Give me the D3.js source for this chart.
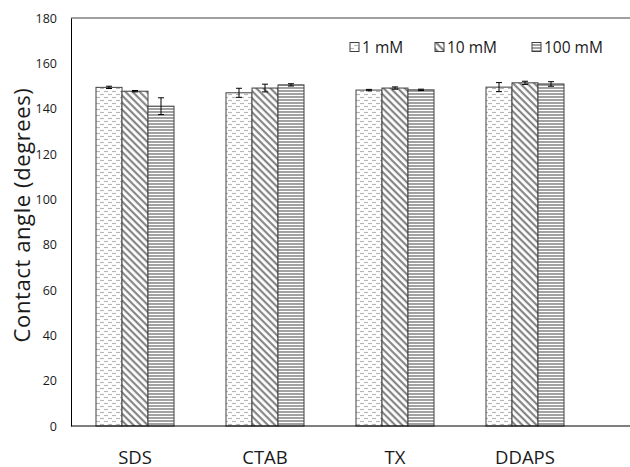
<!doctype html>
<html>
<head>
<meta charset="UTF-8">
<script src="https://d3js.org/d3.v7.min.js"></script>
<style>
  body { margin: 0; background: #fff; }
  text { font-family: "Open Sans", Lato, sans-serif; fill: #1a1a1a; }
</style>
</head>
<body>
<svg id="chart"></svg>
<script>
// data
const categories = ["SDS", "CTAB", "TX", "DDAPS"];
const series = ["1 mM", "10 mM", "100 mM"];
const values1 = [149.4, 147.0, 148.2, 149.5];
const values10 = [147.7, 149.1, 149.1, 151.4];
const values100 = [141.1, 150.5, 148.3, 150.9];
const err1 = [0.5, 2.0, 0.3, 2.0];
const err10 = [0.3, 1.7, 0.5, 0.7];
const err100 = [3.7, 0.5, 0.3, 1.0];
const yTicks = [0, 20, 40, 60, 80, 100, 120, 140, 160, 180];

(function(){
  const W = 630, H = 467;
  const svg = d3.select("#chart").attr("width", W).attr("height", H);

  const left = 71, top = 18, bottom = 426;

  const x0 = d3.scaleBand().domain(categories).range([70, 590])
               .paddingInner(0.4).paddingOuter(0.2);
  const x1 = d3.scaleBand().domain(series).range([0, x0.bandwidth()]);
  const y = d3.scaleLinear().domain([0, 180]).range([bottom, top]);

  // patterns
  const defs = svg.append("defs");
  const p1 = defs.append("pattern").attr("id", "pat0").attr("patternUnits", "userSpaceOnUse")
                 .attr("width", 8).attr("height", 6);
  p1.append("rect").attr("width", 8).attr("height", 6).attr("fill", "#fff");
  p1.append("line").attr("x1", 0).attr("x2", 4).attr("y1", 1.5).attr("y2", 1.5)
    .attr("stroke", "#b8b8b8").attr("stroke-width", 1.2);
  p1.append("line").attr("x1", 4).attr("x2", 8).attr("y1", 4.5).attr("y2", 4.5)
    .attr("stroke", "#b8b8b8").attr("stroke-width", 1.2);

  const p2 = defs.append("pattern").attr("id", "pat1").attr("patternUnits", "userSpaceOnUse")
                 .attr("width", 5).attr("height", 5)
                 .attr("patternTransform", "rotate(45)");
  p2.append("rect").attr("width", 5).attr("height", 5).attr("fill", "#fff");
  p2.append("line").attr("x1", 0).attr("x2", 5).attr("y1", 1.2).attr("y2", 1.2)
    .attr("stroke", "#7a7a7a").attr("stroke-width", 2);

  const p3 = defs.append("pattern").attr("id", "pat2").attr("patternUnits", "userSpaceOnUse")
                 .attr("width", 4).attr("height", 3);
  p3.append("rect").attr("width", 4).attr("height", 3).attr("fill", "#fff");
  p3.append("line").attr("x1", 0).attr("x2", 4).attr("y1", 1).attr("y2", 1)
    .attr("stroke", "#8a8a8a").attr("stroke-width", 1.6);

  // frame top line
  svg.append("line").attr("x1", left).attr("x2", W).attr("y1", top).attr("y2", top)
     .attr("stroke", "#404040").attr("stroke-width", 1);

  // y axis
  const yAxis = d3.axisLeft(y).tickValues(yTicks).tickSize(0).tickPadding(14);
  const gy = svg.append("g").attr("transform", "translate(" + left + ",0)").call(yAxis);
  gy.select(".domain").attr("stroke", "#000");
  gy.selectAll("text").style("font-size", "12.5px")
    .style("font-family", "'Open Sans', Lato, sans-serif").attr("fill", "#1a1a1a");

  svg.append("text")
     .attr("transform", "translate(21," + 215 + ") rotate(-90)")
     .attr("text-anchor", "middle").attr("dominant-baseline", "central")
     .style("font-size", "22px").style("letter-spacing", "0.6px")
     .text("Contact angle (degrees)");

  // bars
  const vals = [values1, values10, values100];
  const errs = [err1, err10, err100];
  const rows = [];
  categories.forEach(function(c, i){
    series.forEach(function(s, j){
      rows.push({cat: c, ser: s, j: j, v: vals[j][i], e: errs[j][i]});
    });
  });

  svg.selectAll(".bar").data(rows).enter().append("rect")
     .attr("class", "bar")
     .attr("x", function(d){ return x0(d.cat) + x1(d.ser); })
     .attr("y", function(d){ return y(d.v); })
     .attr("width", x1.bandwidth())
     .attr("height", function(d){ return bottom - y(d.v); })
     .attr("fill", function(d){ return "url(#pat" + d.j + ")"; })
     .attr("stroke", "#404040").attr("stroke-width", 1);

  // error bars
  const eg = svg.selectAll(".err").data(rows).enter().append("g").attr("class", "err")
     .attr("stroke", "#000").attr("stroke-width", 1);
  const cx = function(d){ return x0(d.cat) + x1(d.ser) + x1.bandwidth() / 2; };
  eg.append("line").attr("x1", cx).attr("x2", cx)
    .attr("y1", function(d){ return y(d.v + d.e); })
    .attr("y2", function(d){ return y(d.v - d.e); });
  eg.append("line").attr("x1", function(d){ return cx(d) - 3; }).attr("x2", function(d){ return cx(d) + 3; })
    .attr("y1", function(d){ return y(d.v + d.e); }).attr("y2", function(d){ return y(d.v + d.e); });
  eg.append("line").attr("x1", function(d){ return cx(d) - 3; }).attr("x2", function(d){ return cx(d) + 3; })
    .attr("y1", function(d){ return y(d.v - d.e); }).attr("y2", function(d){ return y(d.v - d.e); });

  // x axis
  svg.append("line").attr("x1", left).attr("x2", W).attr("y1", bottom).attr("y2", bottom)
     .attr("stroke", "#000").attr("stroke-width", 1.2);
  svg.selectAll(".cat").data(categories).enter().append("text")
     .attr("class", "cat")
     .attr("x", function(d){ return x0(d) + x0.bandwidth() / 2; })
     .attr("y", 456).attr("text-anchor", "middle").attr("dominant-baseline", "central")
     .style("font-size", "18.5px")
     .text(function(d){ return d; });

  // legend
  const legX = [350, 435, 532];
  const lg = svg.selectAll(".leg").data(series).enter().append("g").attr("class", "leg")
     .attr("transform", function(d, i){ return "translate(" + legX[i] + ",47)"; });
  lg.append("rect").attr("x", 0).attr("y", -4.5).attr("width", 9).attr("height", 9)
    .attr("fill", function(d, i){ return "url(#pat" + i + ")"; })
    .attr("stroke", "#404040").attr("stroke-width", 1);
  lg.append("text").attr("x", 12).attr("y", 0).attr("dominant-baseline", "central")
    .style("font-size", "15.5px")
    .text(function(d){ return d; });
})();
</script>
</body>
</html>
